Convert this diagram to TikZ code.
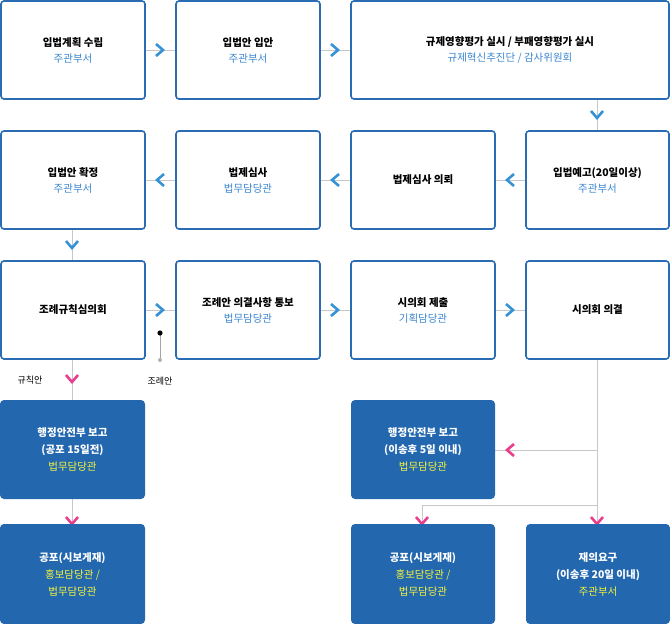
\documentclass[tikz,border=0pt]{standalone}
\usepackage{fontspec}
\newfontfamily\kr{Noto Sans CJK KR}
\definecolor{bd}{HTML}{2A6CB3}
\definecolor{fillb}{HTML}{2367AE}
\definecolor{sub}{HTML}{3A86D0}
\definecolor{pk}{HTML}{E83E8C}
\definecolor{ln}{HTML}{C8C8C8}
\definecolor{ylw}{HTML}{F5F53C}
\begin{document}
\begin{tikzpicture}[x=1pt,y=-1pt,
 wbox/.style={draw=bd,line width=1.6pt,rounded corners=3pt,fill=white},
 bbox/.style={fill=fillb,rounded corners=4pt},
 ttl/.style={font=\kr\fontsize{10.5}{17}\selectfont\bfseries,align=center},
 chevb/.style={draw=sub!90!cyan,line width=2.6pt},
 chevp/.style={draw=pk,line width=2.6pt},
 con/.style={draw=ln,line width=0.8pt}]
\useasboundingbox (0,0) rectangle (670,624);
\newcommand\wbx[6]{\draw[wbox] (#1,#2) rectangle (#3,#4);
 \node[ttl] (#5) at ({(#1+#3)/2},{(#2+#4)/2}) {#6};}
\newcommand\bbx[6]{\fill[bbox] (#1,#2) rectangle (#3,#4);
 \node[ttl,text=white] (#5) at ({(#1+#3)/2},{(#2+#4)/2}) {#6};}
\newcommand\subb[1]{\\[-1pt]{\mdseries\color{sub}#1}}
\newcommand\ysub[1]{\\{\mdseries\color{ylw}#1}}
% connectors first
\draw[con] (145,50)--(176,50) (320,50)--(351,50) (597,99)--(597,131)
 (526,180)--(495,180) (351,180)--(320,180) (176,180)--(145,180) (72,229)--(72,261)
 (145,310)--(176,310) (320,310)--(351,310) (495,310)--(526,310)
 (72,359)--(72,400) (72,499)--(72,524);
\draw[con] (597,359)--(597,524) (597,450)--(495,450) (597,505)--(422,505)--(422,524);
\draw[draw=gray!70,line width=0.8pt] (160,333)--(160,360);
\fill (160,333) circle (2.6pt);
\fill[gray!60] (160,360) circle (2pt);
% chevrons
\newcommand\chr[2]{\draw[chevb] (#1-4,#2-6)--(#1+3,#2)--(#1-4,#2+6);}
\newcommand\chl[3]{\draw[#3] (#1+4,#2-6)--(#1-3,#2)--(#1+4,#2+6);}
\newcommand\chd[3]{\draw[#3] (#1-6,#2-4)--(#1,#2+3)--(#1+6,#2-4);}
\chr{160}{50}\chr{335}{50}\chd{597}{115}{chevb}
\chl{510}{180}{chevb}\chl{335}{180}{chevb}\chl{160}{180}{chevb}
\chd{72}{245}{chevb}
\chr{160}{310}\chr{335}{310}\chr{510}{310}
\chd{72}{379}{chevp}\chd{72}{521}{chevp}\chd{422}{521}{chevp}\chd{597}{521}{chevp}
\chl{510}{450}{chevp}
% boxes
\wbx{1}{1}{145}{99}{a1}{입법계획 수립\subb{주관부서}}
\wbx{176}{1}{320}{99}{a2}{입법안 입안\subb{주관부서}}
\wbx{351}{1}{669}{99}{a3}{규제영향평가 실시 / 부패영향평가 실시\subb{규제혁신추진단 / 감사위원회}}
\wbx{1}{131}{145}{229}{b1}{입법안 확정\subb{주관부서}}
\wbx{176}{131}{320}{229}{b2}{법제심사\subb{법무담당관}}
\wbx{351}{131}{495}{229}{b3}{법제심사 의뢰}
\wbx{526}{131}{669}{229}{b4}{입법예고(20일이상)\subb{주관부서}}
\wbx{1}{261}{145}{359}{c1}{조례규칙심의회}
\wbx{176}{261}{320}{359}{c2}{조례안 의결사항 통보\subb{법무담당관}}
\wbx{351}{261}{495}{359}{c3}{시의회 제출\subb{기획담당관}}
\wbx{526}{261}{669}{359}{c4}{시의회 의결}
\bbx{0}{400}{145}{499}{d1}{행정안전부 보고\\(공포 15일전)\ysub{법무담당관}}
\bbx{351}{400}{495}{499}{d3}{행정안전부 보고\\(이송후 5일 이내)\ysub{법무담당관}}
\bbx{0}{524}{145}{624}{e1}{공포(시보게재)\ysub{홍보담당관 /}\ysub{법무담당관}}
\bbx{351}{524}{495}{624}{e3}{공포(시보게재)\ysub{홍보담당관 /}\ysub{법무담당관}}
\bbx{526}{524}{670}{624}{e4}{재의요구\\(이송후 20일 이내)\ysub{주관부서}}
\node[ttl,font=\kr\fontsize{9}{11}\selectfont] (l1) at (30,380) {규칙안};
\node[ttl,font=\kr\fontsize{9}{11}\selectfont] (l2) at (160,381) {조례안};
\end{tikzpicture}
\end{document}
